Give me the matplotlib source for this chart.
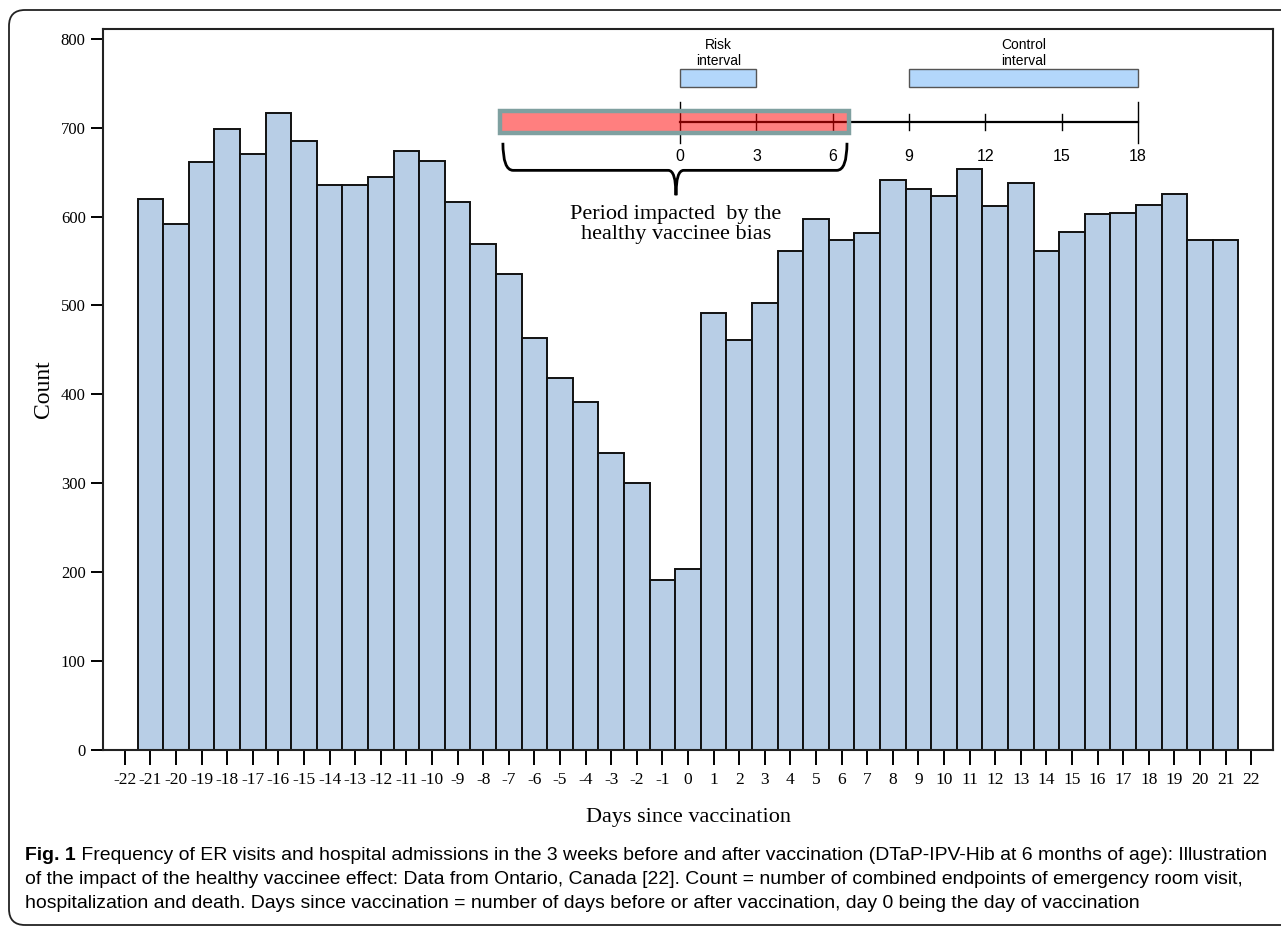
import matplotlib
matplotlib.use("Agg")
import matplotlib.pyplot as plt
import matplotlib.patches as patches
from matplotlib.path import Path
from matplotlib.transforms import IdentityTransform

# ---- data ----
days = list(range(-21, 22))
counts = [620, 592, 661, 698, 670, 717, 685, 636, 636, 645, 674, 663, 616, 569,
          535, 463, 418, 392, 334, 300, 191, 204, 492, 461, 503, 561, 597, 574,
          581, 641, 631, 623, 653, 612, 638, 561, 583, 603, 604, 613, 625, 574, 574]
xticks = list(range(-22, 23))
yticks = list(range(0, 801, 100))
timeline_days = [0, 3, 6, 9, 12, 15, 18]
risk_interval = (0, 3)
control_interval = (9, 18)

caption_bold = "Fig. 1"
caption_lines = [
    " Frequency of ER visits and hospital admissions in the 3 weeks before and after vaccination (DTaP-IPV-Hib at 6 months of age): Illustration",
    "of the impact of the healthy vaccinee effect: Data from Ontario, Canada [22]. Count = number of combined endpoints of emergency room visit,",
    "hospitalization and death. Days since vaccination = number of days before or after vaccination, day 0 being the day of vaccination",
]

serif = "Liberation Serif"
sans = "Liberation Sans"

bar_color = "#b8cee6"
box_color = "#b3d7fb"

W, H = 1281, 927
fig = plt.figure(figsize=(W / 100, H / 100), dpi=100)
ax = fig.add_axes([103 / W, 1 - 750 / H, (1273 - 103) / W, (750 - 29) / H])

ax.bar(days, counts, width=1.0, color=bar_color, edgecolor="#111111", linewidth=1.4, zorder=2)

ax.set_xlim(-22.85, 22.85)
ax.set_ylim(0, 811)
ax.set_xticks(xticks)
ax.set_xticklabels([str(v) for v in xticks], fontfamily=serif, fontsize=12.5)
ax.set_yticks(yticks)
ax.set_yticklabels([str(v) for v in yticks], fontfamily=serif, fontsize=12)
ax.tick_params(axis="x", direction="out", length=11, width=1.4, pad=5)
ax.tick_params(axis="y", direction="out", length=8.5, width=1.4, pad=4)
for s in ax.spines.values():
    s.set_linewidth(1.5)
    s.set_color("#222222")

ax.set_xlabel("Days since vaccination", fontfamily=serif, fontsize=16, labelpad=14)
ax.set_ylabel("Count", fontfamily=serif, fontsize=17, labelpad=5)

# ---- timeline annotation (data coords) ----
tl_x0 = -0.31
tl_k = 0.994
def tl(d):
    return tl_x0 + d * tl_k

tl_y = 706
ax.plot([tl(0), tl(18)], [tl_y, tl_y], color="black", lw=1.6, zorder=3)
for d in timeline_days:
    if d in (0, 18):
        ax.plot([tl(d), tl(d)], [683, 729], color="black", lw=1.0, zorder=3)
    else:
        ax.plot([tl(d), tl(d)], [697, 715], color="black", lw=1.0, zorder=3)
    ax.text(tl(d), 668, str(d), ha="center", va="center", fontfamily=sans, fontsize=11.5)

red = patches.Rectangle((-7.34, 694), 13.63, 25, facecolor=(1, 0, 0, 0.5),
                        edgecolor="#7fa0a0", linewidth=3.2, zorder=4)
ax.add_patch(red)

for (a, b), label in [(risk_interval, "Risk\ninterval"), (control_interval, "Control\ninterval")]:
    ax.add_patch(patches.Rectangle((tl(a), 746), tl(b) - tl(a), 20, facecolor=box_color,
                                   edgecolor="#555555", linewidth=1.0, zorder=3))
    ax.text((tl(a) + tl(b)) / 2, 784, label, ha="center", va="center", fontfamily=sans,
            fontsize=10, linespacing=1.15)

# brace
xl, xr, xt = -7.23, 6.21, -0.47
yt, yh, yp = 683, 652, 624
verts = [(xl, yt), (xl, yh), (xl + 0.4, yh), (xt - 0.3, yh), (xt, yh), (xt, yp),
         (xt, yh), (xt + 0.3, yh), (xr - 0.4, yh), (xr, yh), (xr, yt)]
codes = [Path.MOVETO, Path.CURVE3, Path.CURVE3, Path.LINETO, Path.CURVE3, Path.CURVE3,
         Path.CURVE3, Path.CURVE3, Path.LINETO, Path.CURVE3, Path.CURVE3]
ax.add_patch(patches.PathPatch(Path(verts, codes), facecolor="none", edgecolor="black",
                               lw=2.0, zorder=3))
ax.text(xt, 591, "Period impacted  by the\nhealthy vaccinee bias", ha="center", va="center",
        fontfamily=serif, fontsize=16, linespacing=1.1)

# ---- outer frame ----
frame = patches.FancyBboxPatch((9, 2), 1320, 915, boxstyle="round,pad=0,rounding_size=16",
                               transform=IdentityTransform(), facecolor="none",
                               edgecolor="#222222", linewidth=1.3)
fig.patches.append(frame)

# ---- caption: shrink the font until the first line fits the frame ----
renderer = fig.canvas.get_renderer()
line_y = [856, 880, 903]
x_left, x_right = 25, 1262
size = 13.0
tb = fig.text(x_left / W, 1 - line_y[0] / H, caption_bold, ha="left", va="center",
              fontfamily=sans, fontweight="bold", fontsize=size)
t1 = fig.text(0, 1 - line_y[0] / H, caption_lines[0], ha="left", va="center",
              fontfamily=sans, fontsize=size)
for _ in range(3):
    bw = tb.get_window_extent(renderer=renderer).width
    w1 = t1.get_window_extent(renderer=renderer).width
    size = size * (x_right - x_left) / (bw + w1)
    tb.set_fontsize(size)
    t1.set_fontsize(size)
bw = tb.get_window_extent(renderer=renderer).width
t1.set_x((x_left + bw) / W)
for y, line in zip(line_y[1:], caption_lines[1:]):
    fig.text(x_left / W, 1 - y / H, line, ha="left", va="center", fontfamily=sans, fontsize=size)

fig.savefig("out.png", dpi=100)
